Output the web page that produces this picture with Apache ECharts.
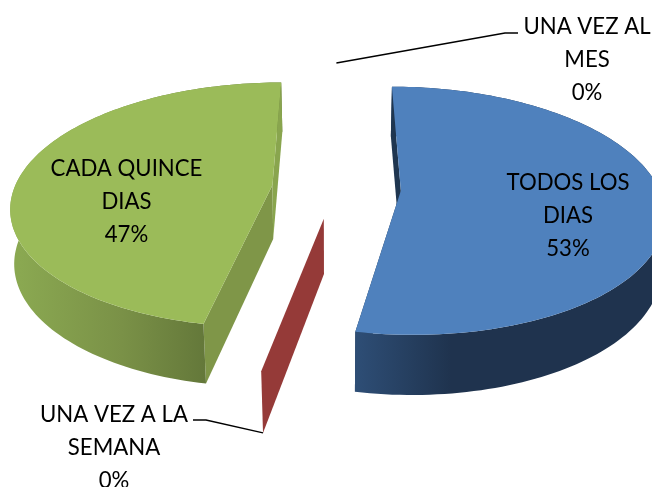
<!DOCTYPE html>
<html>
<head>
<meta charset="utf-8">
<style>html,body{margin:0;padding:0;background:#fff}#c{width:652px;height:487px}</style>
<script src="https://cdn.jsdelivr.net/npm/echarts@6/dist/echarts.min.js"></script>
</head>
<body>
<div id="c"></div>
<script>
// Data
const categories = ['TODOS LOS\nDIAS', 'UNA VEZ A LA\nSEMANA', 'CADA QUINCE\nDIAS', 'UNA VEZ AL\nMES'];
const values = [53, 0, 47, 0];

// Colours
const topColors = ['#4f81bd', '#c0504d', '#9bbb59', '#8064a2'];
const startWallColors = ['#1f3650', '#953a38', '#7f9648', '#66507f'];
const endWallColors = ['#1f3650', '#953a38', '#89a54e', '#66507f'];
const outerWallStops = [
  ['#2e4e76', '#1f334e', '#1f334e'],
  ['#953a38', '#953a38', '#953a38'],
  ['#8aa851', '#7a9147', '#64783a'],
  ['#66507f', '#66507f', '#66507f']
];
const outerGradientSpans = [[355, 530], [0, 1], [20, 205], [0, 1]];

// Layout of the tilted, exploded pie
const view = { cx: 336.4, cy: 188, rx: 258, ry: 120, perspective: 0.16, explode: 0.25, depth: 54, baseShrink: 0.012, baseShrinkFront: 0.008 };
const labelCentres = [[568, 215.5], [114, 448], [126.5, 201.5], [587, 59.5]];
const labelFont = 'Lato';
const labelSize = 22.2;
const labelLineHeight = 33;
const leaderElbows = [null, [[206, 420], [193, 420]], null, [[505, 33], [518, 33]]];
const leaderFromBase = [false, true, false, false];

const total = values.reduce((a, b) => a + b, 0);

function sliceAngles(i) {
  let before = 0;
  for (let k = 0; k < i; k++) before += values[k];
  const a0 = before / total * Math.PI * 2;
  const a1 = (before + values[i]) / total * Math.PI * 2;
  return [a0, a1];
}
function project(px, py, base) {
  const s = 1 / (1 - view.perspective * py);
  let x = view.cx + view.rx * px * s;
  let y = view.cy + view.ry * py * s;
  if (base) {
    x = view.cx + (x - view.cx) * (1 - view.baseShrink - view.baseShrinkFront * py * py);
    y += view.depth * Math.pow(s, 0.6);
  }
  return [x, y];
}
function pointOf(i, angle, r, base) {
  const [a0, a1] = sliceAngles(i);
  const mid = (a0 + a1) / 2;
  const ox = view.explode * Math.sin(mid), oy = -view.explode * Math.cos(mid);
  return project(ox + r * Math.sin(angle), oy - r * Math.cos(angle), base);
}
function arc(i, a0, a1, base) {
  const pts = [];
  const n = Math.max(2, Math.ceil((a1 - a0) * 40));
  for (let k = 0; k <= n; k++) pts.push(pointOf(i, a0 + (a1 - a0) * k / n, 1, base));
  return pts;
}
function quad(i, angle) {
  return [pointOf(i, angle, 0, false), pointOf(i, angle, 1, false), pointOf(i, angle, 1, true), pointOf(i, angle, 0, true)];
}

function renderItem(params) {
  const i = params.dataIndex;
  const [a0, a1] = sliceAngles(i);
  const children = [];
  const poly = (points, fill, z2) => children.push({ type: 'polygon', z2, shape: { points }, style: { fill, stroke: null }, silent: true });
  const wallZ = (angle) => (Math.cos(angle) > 0 ? 2.5 : 1);

  poly(quad(i, a0), startWallColors[i], wallZ(a0));
  if (values[i] > 0) {
    poly(quad(i, a1), endWallColors[i], wallZ(a1));
    const outer = arc(i, a0, a1, false).concat(arc(i, a0, a1, true).reverse());
    const span = outerGradientSpans[i];
    const stops = outerWallStops[i];
    poly(outer, {
      type: 'linear', global: true, x: span[0], y: 0, x2: span[1], y2: 0,
      colorStops: [{ offset: 0, color: stops[0] }, { offset: 0.55, color: stops[1] }, { offset: 1, color: stops[2] }]
    }, 2);
    const top = [pointOf(i, a0, 0, false)].concat(arc(i, a0, a1, false));
    poly(top, topColors[i], 3);
  }
  if (leaderElbows[i]) {
    const start = pointOf(i, a0, 1, leaderFromBase[i]);
    children.push({
      type: 'polyline', z2: 5, silent: true,
      shape: { points: [start].concat(leaderElbows[i]) },
      style: { stroke: '#000', lineWidth: 1.4, fill: null }
    });
  }
  const lines = categories[i].split('\n').concat([Math.round(values[i] / total * 100) + '%']);
  const c = labelCentres[i];
  lines.forEach((t, k) => {
    children.push({
      type: 'text', z2: 10, silent: true, x: c[0], y: c[1] + (k - (lines.length - 1) / 2) * labelLineHeight,
      style: { text: t, font: labelSize + 'px ' + labelFont, fill: '#000', align: 'center', verticalAlign: 'middle' }
    });
  });
  return { type: 'group', children };
}

const chart = echarts.init(document.getElementById('c'), null, { renderer: 'canvas', width: 652, height: 487 });
chart.setOption({
  backgroundColor: '#fff',
  animation: false,
  series: [{
    type: 'custom',
    coordinateSystem: 'none',
    renderItem,
    silent: true,
    data: values.map((v, i) => ({ name: categories[i], value: [i, v] }))
  }]
});
</script>
</body>
</html>
